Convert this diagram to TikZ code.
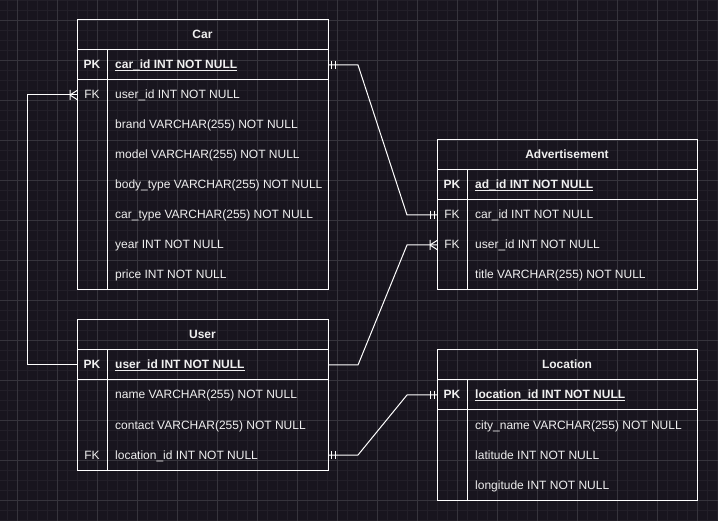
\documentclass[tikz,border=0pt]{standalone}
\usepackage{fontspec}
\setmainfont{Liberation Sans}
\definecolor{bg}{RGB}{24,21,30}
\definecolor{gmin}{RGB}{34,31,40}
\definecolor{gmaj}{RGB}{54,52,60}
\definecolor{txt}{RGB}{240,240,240}
\tikzset{
  edge/.style={draw=white, line width=1pt},
  tbl/.style={draw=white, line width=1pt, inner sep=0, outer sep=0},
  rowL/.style={inner sep=0, outer sep=0, minimum width=251pt, minimum height=30pt},
  rowR/.style={inner sep=0, outer sep=0, minimum width=260pt, minimum height=30pt},
  ttl/.style={anchor=base, inner sep=0, text=txt, font=\fontsize{12pt}{14pt}\selectfont\bfseries},
  keyb/.style={anchor=base, inner sep=0, text=txt, font=\fontsize{12pt}{14pt}\selectfont\bfseries},
  keyn/.style={anchor=base, inner sep=0, text=txt, font=\fontsize{12pt}{14pt}\selectfont},
  fldb/.style={anchor=base west, inner sep=0, text=txt, font=\fontsize{12pt}{14pt}\selectfont\bfseries},
  fldn/.style={anchor=base west, inner sep=0, text=txt, font=\fontsize{12pt}{14pt}\selectfont},
  uline/.style={draw=txt, line width=0.9pt},
  mandone/.pic={\draw[edge] (3,-4) -- (3,4) (7,-4) -- (7,4);},
  crowfoot/.pic={\draw[edge] (-7,-5) -- (-7,5) (-7,0) -- (0,-4.5) (-7,0) -- (0,4.5);}
}
\begin{document}
\begin{tikzpicture}[x=1pt,y=-1pt]
\fill[bg] (0,0) rectangle (718,521);
\useasboundingbox (0,0) rectangle (718,521);
% grid
\foreach \x in {7,17,...,717} \draw[gmin, line width=0.6pt] (\x,0) -- (\x,521);
\foreach \y in {0,10,...,520} \draw[gmin, line width=0.6pt] (0,\y) -- (718,\y);
\foreach \x in {17,57,...,697} \draw[gmaj, line width=0.8pt] (\x,0) -- (\x,521);
\foreach \y in {20,60,...,500} \draw[gmaj, line width=0.8pt] (0,\y) -- (718,\y);

% ---------- Car ----------
\node[tbl, minimum width=251pt, minimum height=270pt] (car) at (202.5,155) {};
\node[rowL] (carr1) at (202.5,65) {};
\node[rowL] (carr2) at (202.5,95) {};
\draw[edge] (77,50) -- (328,50) (77,80) -- (328,80) (107,50) -- (107,290);
\node[ttl] (carh) at (202.5,39) {Car};
\node[keyb] (carpk) at (92,69) {PK};
\node[fldb] (carf1) at (115,69) {car\_id INT NOT NULL};
\draw[uline] ([yshift=-1.6pt]carf1.base west) -- ([yshift=-1.6pt]carf1.base east);
\node[keyn] (carfk) at (92,99) {FK};
\node[fldn] (carf2) at (115,99) {user\_id INT NOT NULL};
\node[fldn] (carf3) at (115,129) {brand VARCHAR(255) NOT NULL};
\node[fldn] (carf4) at (115,159) {model VARCHAR(255) NOT NULL};
\node[fldn] (carf5) at (115,189) {body\_type VARCHAR(255) NOT NULL};
\node[fldn] (carf6) at (115,219) {car\_type VARCHAR(255) NOT NULL};
\node[fldn] (carf7) at (115,249) {year INT NOT NULL};
\node[fldn] (carf8) at (115,279) {price INT NOT NULL};

% ---------- User ----------
\node[tbl, minimum width=251pt, minimum height=150pt] (user) at (202.5,395) {};
\node[rowL] (userr1) at (202.5,365) {};
\node[rowL] (userr4) at (202.5,455) {};
\draw[edge] (77,350) -- (328,350) (77,380) -- (328,380) (107,350) -- (107,470);
\node[ttl] (userh) at (202.5,339) {User};
\node[keyb] (userpk) at (92,369) {PK};
\node[fldb] (userf1) at (115,369) {user\_id INT NOT NULL};
\draw[uline] ([yshift=-1.6pt]userf1.base west) -- ([yshift=-1.6pt]userf1.base east);
\node[fldn] (userf2) at (115,399) {name VARCHAR(255) NOT NULL};
\node[fldn] (userf3) at (115,429) {contact VARCHAR(255) NOT NULL};
\node[keyn] (userfk) at (92,459) {FK};
\node[fldn] (userf4) at (115,459) {location\_id INT NOT NULL};

% ---------- Advertisement ----------
\node[tbl, minimum width=260pt, minimum height=150pt] (adv) at (567,215) {};
\node[rowR] (advr2) at (567,215) {};
\node[rowR] (advr3) at (567,245) {};
\draw[edge] (437,170) -- (697,170) (437,200) -- (697,200) (467,170) -- (467,290);
\node[ttl] (advh) at (567,159) {Advertisement};
\node[keyb] (advpk) at (452,189) {PK};
\node[fldb] (advf1) at (475,189) {ad\_id INT NOT NULL};
\draw[uline] ([yshift=-1.6pt]advf1.base west) -- ([yshift=-1.6pt]advf1.base east);
\node[keyn] (advfk1) at (452,219) {FK};
\node[fldn] (advf2) at (475,219) {car\_id INT NOT NULL};
\node[keyn] (advfk2) at (452,249) {FK};
\node[fldn] (advf3) at (475,249) {user\_id INT NOT NULL};
\node[fldn] (advf4) at (475,279) {title VARCHAR(255) NOT NULL};

% ---------- Location ----------
\node[tbl, minimum width=260pt, minimum height=150pt] (loc) at (567,425) {};
\node[rowR] (locr1) at (567,395) {};
\draw[edge] (437,380) -- (697,380) (437,410) -- (697,410) (467,380) -- (467,500);
\node[ttl] (loch) at (567,369) {Location};
\node[keyb] (locpk) at (452,399) {PK};
\node[fldb] (locf1) at (475,399) {location\_id INT NOT NULL};
\draw[uline] ([yshift=-1.6pt]locf1.base west) -- ([yshift=-1.6pt]locf1.base east);
\node[fldn] (locf2) at (475,429) {city\_name VARCHAR(255) NOT NULL};
\node[fldn] (locf3) at (475,459) {latitude INT NOT NULL};
\node[fldn] (locf4) at (475,489) {longitude INT NOT NULL};

% ---------- Connectors ----------
% User.user_id -> Car.user_id
\draw[edge] (userr1.west) -- ++(-50,0) |- (carr2.west);
\pic at (carr2.west) {crowfoot};
% Car.car_id -> Advertisement.car_id
\draw[edge] (carr1.east) -- ++(30,0) -- ([xshift=-30pt]advr2.west) -- (advr2.west);
\pic at (carr1.east) {mandone};
\pic[xscale=-1] at (advr2.west) {mandone};
% User.user_id -> Advertisement.user_id
\draw[edge] (userr1.east) -- ++(30,0) -- ([xshift=-30pt]advr3.west) -- (advr3.west);
\pic at (advr3.west) {crowfoot};
% User.location_id -> Location.location_id
\draw[edge] (userr4.east) -- ++(30,0) -- ([xshift=-30pt]locr1.west) -- (locr1.west);
\pic at (userr4.east) {mandone};
\pic[xscale=-1] at (locr1.west) {mandone};
\end{tikzpicture}
\end{document}
